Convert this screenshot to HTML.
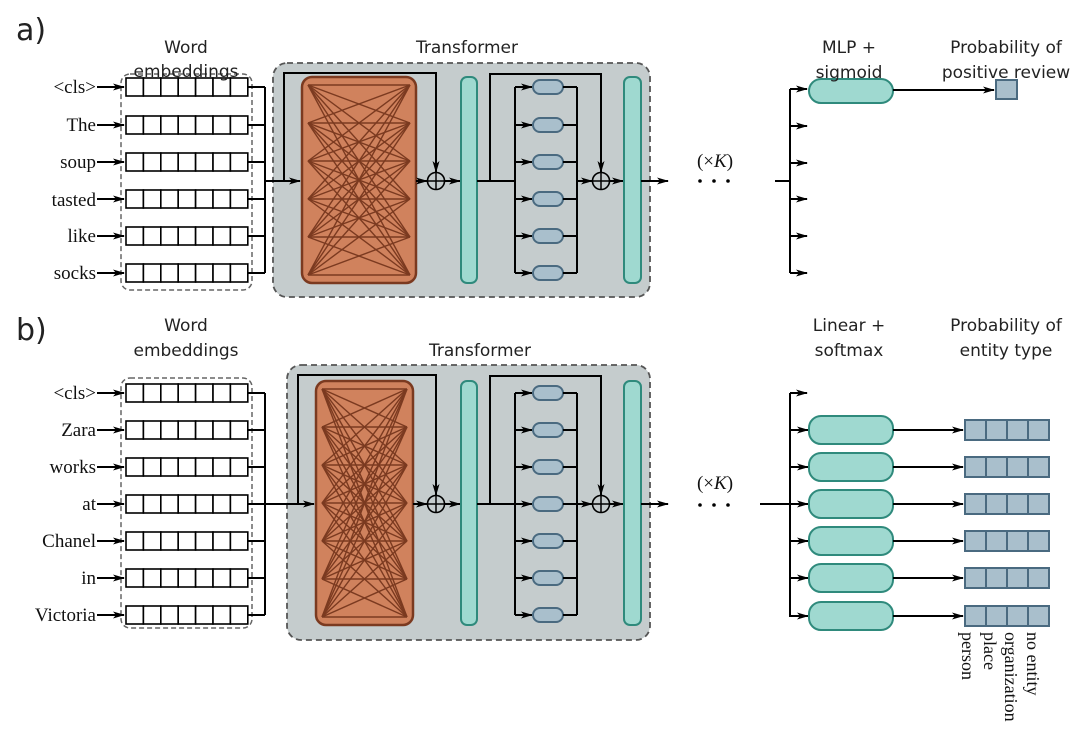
<!DOCTYPE html>
<html><head><meta charset="utf-8"><style>
body{margin:0;background:#fff}
svg{display:block}
.s{font-family:"DejaVu Sans","Liberation Sans",sans-serif;font-size:17px;fill:#222}
.r{font-family:"Liberation Serif",serif;font-size:19px;fill:#111}
</style></head><body>
<svg id="sv" width="1077" height="738" viewBox="0 0 1077 738" xmlns="http://www.w3.org/2000/svg">
<defs><marker id="ah" markerWidth="12" markerHeight="8" refX="11" refY="4" orient="auto" markerUnits="userSpaceOnUse"><path d="M0,0.5 L12,4 L0,7.5 L3,4Z" fill="#000"/></marker></defs>
<g id="g"></g>
<text x="16" y="40" class="s" style="font-size:30px">a)</text>
<text x="16" y="340" class="s" style="font-size:30px">b)</text>
<g class="s" text-anchor="middle">
<text x="186" y="53">Word</text><text x="186" y="77">embeddings</text>
<text x="467" y="53">Transformer</text>
<text x="849" y="53">MLP +</text><text x="849" y="78">sigmoid</text>
<text x="1006" y="53">Probability of</text><text x="1006" y="78">positive review</text>
<text x="186" y="331">Word</text><text x="186" y="356">embeddings</text>
<text x="480" y="356">Transformer</text>
<text x="849" y="331">Linear +</text><text x="849" y="356">softmax</text>
<text x="1006" y="331">Probability of</text><text x="1006" y="356">entity type</text>
</g>
<g class="r" text-anchor="end">
<text x="96" y="93">&lt;cls&gt;</text><text x="96" y="131">The</text><text x="96" y="168">soup</text><text x="96" y="206">tasted</text><text x="96" y="242">like</text><text x="96" y="279">socks</text>
<text x="96" y="399">&lt;cls&gt;</text><text x="96" y="436">Zara</text><text x="96" y="473">works</text><text x="96" y="510">at</text><text x="96" y="547">Chanel</text><text x="96" y="584">in</text><text x="96" y="621">Victoria</text>
</g>
<g class="r" style="font-size:19px" text-anchor="middle">
<text x="715" y="167">(×<tspan font-style="italic">K</tspan>)</text>
<text x="715" y="489">(×<tspan font-style="italic">K</tspan>)</text>
</g>
<g fill="#000"><circle cx="700" cy="181" r="1.8"/><circle cx="714" cy="181" r="1.8"/><circle cx="728" cy="181" r="1.8"/>
<circle cx="700" cy="505" r="1.8"/><circle cx="714" cy="505" r="1.8"/><circle cx="728" cy="505" r="1.8"/></g>
<g class="r" style="font-size:18px">
<text transform="translate(962,632) rotate(90)">person</text>
<text transform="translate(984,632) rotate(90)">place</text>
<text transform="translate(1005,632) rotate(90)">organization</text>
<text transform="translate(1027,632) rotate(90)">no entity</text>
</g>
</svg>
<script>
const g=document.getElementById('g');const NS='http://www.w3.org/2000/svg';
function el(t,a){const e=document.createElementNS(NS,t);for(const k in a)e.setAttribute(k,a[k]);g.appendChild(e);return e;}
function ln(pts,arrow,w){el('polyline',{points:pts.map(p=>p.join(',')).join(' '),fill:'none',stroke:'#000','stroke-width':w||2,'marker-end':arrow?'url(#ah)':''});}
function panel(rows,o){
 const mid=o.mid;
 el('rect',{x:o.tx,y:o.ty,width:650-o.tx,height:o.tb-o.ty,rx:14,fill:'#c5cccd',stroke:'#555','stroke-width':1.8,'stroke-dasharray':'6,4'});
 el('rect',{x:121,y:o.wy,width:131,height:o.wb-o.wy,rx:9,fill:'#fff',stroke:'#666','stroke-width':1.5,'stroke-dasharray':'5,3'});
 rows.forEach(y=>{
  ln([[97,y],[124,y]],1);
  for(let i=0;i<7;i++)el('rect',{x:126+i*17.4,y:y-9,width:17.4,height:18,fill:'#fff',stroke:'#000','stroke-width':1.6});
  ln([[248,y],[265,y]],0);
 });
 ln([[265,rows[0]],[265,rows[rows.length-1]]],0);
 ln([[265,mid],[o.ax-2,mid]],1);
 ln([[o.tx+11,mid],[o.tx+11,o.ty+10],[436,o.ty+10],[436,mid-9]],1);
 el('rect',{x:o.ax,y:o.ay,width:o.aw,height:o.ab-o.ay,rx:10,fill:'#d0825d',stroke:'#7b3a20','stroke-width':2.5});
 const L=o.ax+6,R=o.ax+o.aw-6;const nodes=[];const n=rows.length;
 for(let i=0;i<n;i++)nodes.push(o.ay+8+i*(o.ab-o.ay-16)/(n-1));
 nodes.forEach(a=>nodes.forEach(b=>el('line',{x1:L,y1:a,x2:R,y2:b,stroke:'#7b3a20','stroke-width':1.4})));
 ln([[o.ax+o.aw,mid],[427,mid]],1);
 circ(436,mid);
 ln([[445,mid],[460,mid]],1);
 el('rect',{x:461,y:o.ay,width:16,height:o.ab-o.ay,rx:6,fill:'#9fd9d0',stroke:'#2f8a7c','stroke-width':2});
 ln([[477,mid],[515,mid]],0);
 ln([[490,mid],[490,o.ty+11],[601,o.ty+11],[601,mid-9]],1);
 ln([[515,rows[0]],[515,rows[n-1]]],0);ln([[577,rows[0]],[577,rows[n-1]]],0);
 rows.forEach(y=>{ln([[515,y],[532,y]],1);el('rect',{x:533,y:y-7,width:30,height:14,rx:7,fill:'#a9bfcc',stroke:'#4a6a80','stroke-width':2});ln([[563,y],[577,y]],0);});
 ln([[577,mid],[592,mid]],1);circ(601,mid);ln([[610,mid],[623,mid]],1);
 el('rect',{x:624,y:o.ay,width:17,height:o.ab-o.ay,rx:6,fill:'#9fd9d0',stroke:'#2f8a7c','stroke-width':2});
 ln([[641,mid],[668,mid]],1);
}
function circ(x,y){el('circle',{cx:x,cy:y,r:8.5,fill:'none',stroke:'#000','stroke-width':1.6});ln([[x-8.5,y],[x+8.5,y]],0,1.5);ln([[x,y-8.5],[x,y+8.5]],0,1.5);}
const ra=[87,125,162,199,236,273];
panel(ra,{mid:181,tx:273,ty:63,tb:297,wy:74,wb:290,ax:302,aw:114,ay:77,ab:283});
const rb=[393,430,467,504,541,578,615];
panel(rb,{mid:504,tx:287,ty:365,tb:640,wy:378,wb:628,ax:316,aw:97,ay:381,ab:625});
ln([[775,181],[790,181]],0);ln([[790,89],[790,273]],0);
[89,126,163,199,236,273].forEach(y=>ln([[790,y],[807,y]],1));
el('rect',{x:809,y:79,width:84,height:24,rx:12,fill:'#9fd9d0',stroke:'#2f8a7c','stroke-width':2});
ln([[893,90],[994,90]],1);
el('rect',{x:996,y:80,width:21,height:19,fill:'#a9bfcc',stroke:'#4a6a80','stroke-width':2});
ln([[760,504],[790,504]],0);ln([[790,393],[790,617]],0);ln([[790,393],[807,393]],1);
[430,467,504,541,578,616].forEach(y=>{ln([[790,y],[808,y]],1);
 el('rect',{x:809,y:y-14,width:84,height:28,rx:12,fill:'#9fd9d0',stroke:'#2f8a7c','stroke-width':2});
 ln([[893,y],[963,y]],1);
 for(let i=0;i<4;i++)el('rect',{x:965+i*21,y:y-10,width:21,height:20,fill:'#a9bfcc',stroke:'#4a6a80','stroke-width':2});
});
</script>
</body></html>
